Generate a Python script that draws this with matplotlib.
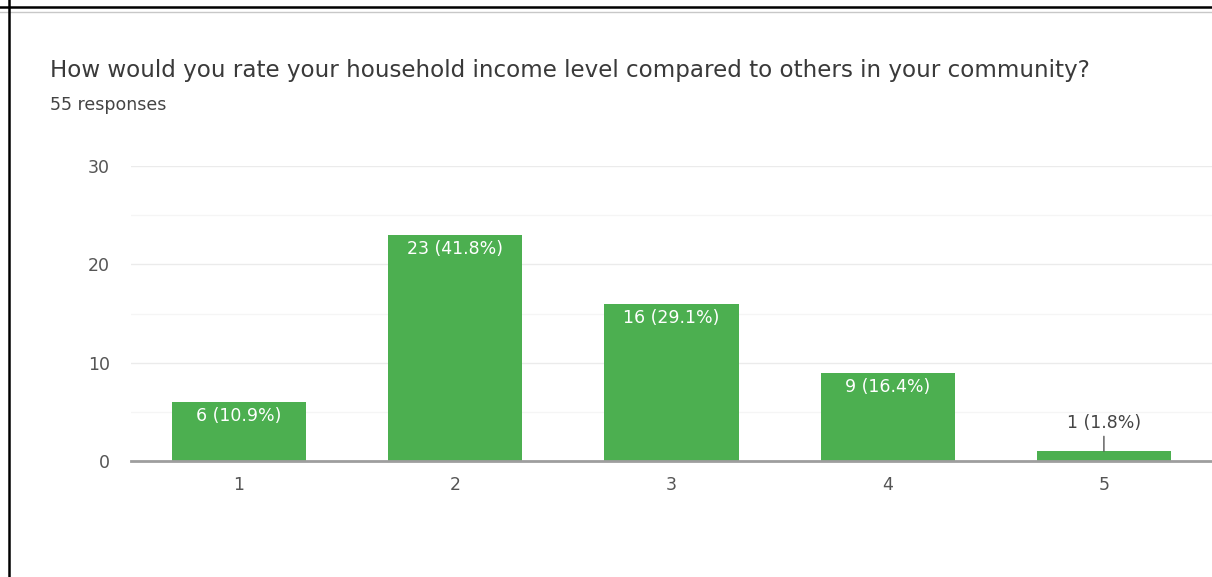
import matplotlib.pyplot as plt
from matplotlib.lines import Line2D

plt.rcParams['font.family'] = ['DejaVu Sans']

ratings = ['1', '2', '3', '4', '5']
counts = [6, 23, 16, 9, 1]
percents = [10.9, 41.8, 29.1, 16.4, 1.8]

title = 'How would you rate your household income level compared to others in your community?'
subtitle = '55 responses'

W, H = 1212, 577
fig = plt.figure(figsize=(W / 100, H / 100), dpi=100)

# screenshot frame lines
fig.add_artist(Line2D([0, 1], [1 - 7 / H, 1 - 7 / H], color='black', lw=1.8))
fig.add_artist(Line2D([0, 1], [1 - 12 / H, 1 - 12 / H], color='#c8c8c8', lw=1.0))
fig.add_artist(Line2D([9 / W, 9 / W], [0, 1], color='black', lw=1.8))

fig.text(50 / W, 1 - 77 / H, title, fontsize=16.6, color='#3a3a3a', va='baseline')
fig.text(50 / W, 1 - 110 / H, subtitle, fontsize=12.5, color='#444444', va='baseline')

ax = fig.add_axes([131 / W, 116 / H, 1 - 131 / W, (461 - 166) / H])
x = range(len(ratings))
bars = ax.bar(x, counts, width=0.62, color='#4caf50', zorder=3)

ax.set_xlim(-0.5, len(ratings) - 0.5)
ax.set_ylim(0, 30)
ax.set_yticks([0, 10, 20, 30])
ax.set_yticks([5, 15, 25], minor=True)
ax.set_xticks(list(x))
ax.set_xticklabels(ratings)
ax.grid(axis='y', which='major', color='#ebebeb', lw=1.0, zorder=0)
ax.grid(axis='y', which='minor', color='#f5f5f5', lw=1.0, zorder=0)
for s in ['top', 'right', 'left']:
    ax.spines[s].set_visible(False)
ax.spines['bottom'].set_color('#9e9e9e')
ax.spines['bottom'].set_linewidth(2)
ax.spines['bottom'].set_zorder(4)
ax.tick_params(axis='both', which='both', length=0, labelsize=12.5, labelcolor='#555555')
ax.tick_params(axis='y', pad=15)
ax.tick_params(axis='x', pad=11)

for i, (c, p) in enumerate(zip(counts, percents)):
    label = f'{c} ({p}%)'
    if c >= 3:
        ax.annotate(label, (i, c), xytext=(0, -14), textcoords='offset pixels',
                    ha='center', va='center', fontsize=12.5, color='white', zorder=5)
    else:
        ax.annotate(label, (i, c), xytext=(0, 28), textcoords='offset pixels',
                    ha='center', va='center', fontsize=12.5, color='#444444', zorder=5,
                    arrowprops=dict(arrowstyle='-', color='#555555', lw=1.0,
                                    shrinkA=1, shrinkB=0))

fig.savefig('out.png', dpi=100)
